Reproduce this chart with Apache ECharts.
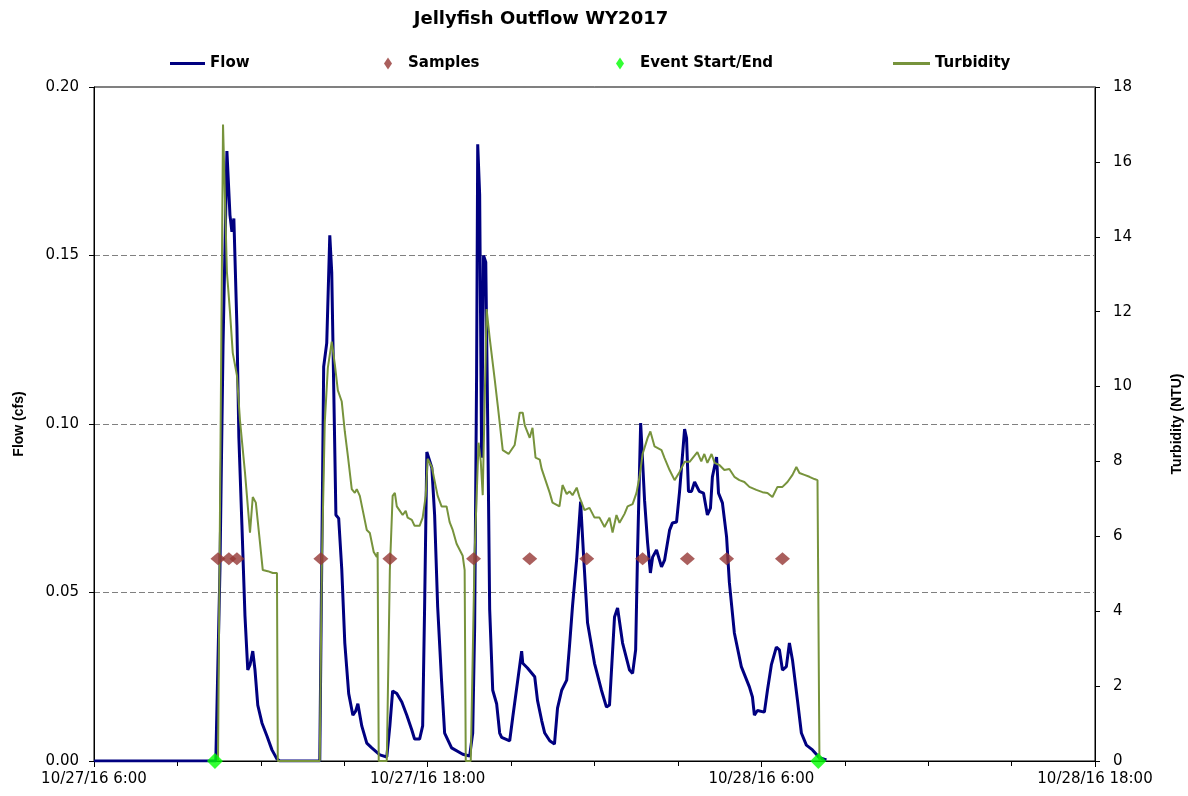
<!DOCTYPE html>
<html>
<head>
<meta charset="utf-8">
<title>Jellyfish Outflow WY2017</title>
<script src="https://cdn.jsdelivr.net/npm/echarts@6/dist/echarts.min.js"></script>
<style>
  html, body { margin: 0; padding: 0; background: #fff; }
  #chart { width: 1188px; height: 796px; }
</style>
</head>
<body>
<div id="chart"></div>
<script>
// hours after 10/27/16 6:00
var flowHours = [0, 4.38, 4.53, 4.64, 4.78, 4.89, 4.96, 5.03, 5.14, 5.21, 5.32, 5.43, 5.53, 5.61, 5.71, 5.79, 5.89, 6.04, 6.22, 6.40, 6.58, 6.68,
  8.12, 8.16, 8.26, 8.37, 8.48, 8.55, 8.70, 8.80, 8.91, 9.02, 9.16, 9.31, 9.41, 9.49, 9.63, 9.81, 9.99, 10.28, 10.53,
  10.64, 10.74, 10.89, 11.07, 11.25, 11.43, 11.53, 11.71, 11.82, 11.89, 11.97, 12.04, 12.15, 12.25, 12.36, 12.50, 12.61, 12.86, 13.26, 13.51,
  13.62, 13.69, 13.76, 13.80, 13.87, 13.94, 14.01, 14.09, 14.16, 14.23, 14.34, 14.48, 14.59, 14.66, 14.95,
  15.06, 15.24, 15.38, 15.42, 15.59, 15.85, 15.95, 16.10, 16.21, 16.39, 16.56, 16.67, 16.82, 17.00, 17.10, 17.21, 17.36, 17.50, 17.61, 17.75,
  18.00, 18.25, 18.43, 18.54, 18.72, 18.83, 19.01, 19.26, 19.37, 19.48, 19.55, 19.66, 19.80, 19.91, 20.01, 20.09, 20.23, 20.41, 20.52,
  20.70, 20.80, 20.95, 21.06, 21.24, 21.31, 21.38, 21.49, 21.60, 21.77, 21.92, 22.06, 22.17, 22.24, 22.39, 22.46, 22.60, 22.75, 22.85,
  23.03, 23.28, 23.57, 23.68, 23.75, 23.86, 24.11, 24.22, 24.36, 24.54, 24.65, 24.76, 24.90, 25.01, 25.12, 25.30, 25.44, 25.62, 25.84, 26.09, 26.34];
var flowValues = [0, 0, 0.057, 0.123, 0.181, 0.162, 0.157, 0.161, 0.129, 0.096, 0.070, 0.043, 0.027, 0.0285, 0.0326, 0.027, 0.0166, 0.0113, 0.0074, 0.0033, 0.0006, 0,
  0, 0, 0.117, 0.124, 0.156, 0.145, 0.073, 0.072, 0.057, 0.035, 0.020, 0.0136, 0.0148, 0.017, 0.0104, 0.0053, 0.0039, 0.0018, 0.0012,
  0.0104, 0.0208, 0.020, 0.0175, 0.0136, 0.0092, 0.0065, 0.0065, 0.0104, 0.0457, 0.0917, 0.0917, 0.087, 0.073, 0.0457, 0.0237, 0.0083, 0.0039, 0.002, 0.0015,
  0.0083, 0.040, 0.115, 0.183, 0.168, 0.09, 0.150, 0.148, 0.10, 0.045, 0.021, 0.017, 0.0083, 0.007, 0.006,
  0.013, 0.024, 0.0326, 0.029, 0.0276, 0.025, 0.018, 0.012, 0.0083, 0.006, 0.005, 0.0157, 0.021, 0.024, 0.034, 0.046, 0.060, 0.077, 0.0605, 0.041,
  0.029, 0.021, 0.016, 0.0166, 0.0427, 0.0454, 0.035, 0.027, 0.026, 0.033, 0.0626, 0.1003, 0.0774, 0.0647, 0.0558, 0.0605, 0.0626, 0.0576, 0.0596,
  0.0685, 0.0706, 0.0709, 0.080, 0.0985, 0.0958, 0.080, 0.080, 0.0828, 0.080, 0.0795, 0.073, 0.075, 0.0843, 0.0902, 0.0795, 0.0766, 0.0665, 0.053,
  0.038, 0.028, 0.022, 0.019, 0.0136, 0.015, 0.0145, 0.021, 0.0285, 0.0338, 0.033, 0.027, 0.028, 0.035, 0.030, 0.018, 0.0083, 0.0047, 0.0033, 0.001, 0.0003];

var turbHours = [4.46, 4.64, 4.78, 4.89, 4.99, 5.14, 5.25, 5.43, 5.61, 5.71, 5.82, 5.96, 6.07, 6.25, 6.43, 6.50, 6.58, 6.61,
  8.12, 8.19, 8.30, 8.41, 8.55, 8.66, 8.77, 8.91, 9.02, 9.13, 9.27, 9.38, 9.45, 9.56, 9.67, 9.81, 9.92, 10.06, 10.17, 10.20, 10.24,
  10.53, 10.64, 10.74, 10.82, 10.89, 11.00, 11.10, 11.21, 11.28, 11.43, 11.53, 11.71, 11.82, 11.93, 12.00, 12.15, 12.25, 12.36, 12.50,
  12.68, 12.79, 12.90, 13.04, 13.15, 13.26, 13.33, 13.37, 13.55, 13.69, 13.83, 13.91, 13.98, 14.12, 14.23, 14.41, 14.52, 14.70, 14.91,
  15.13, 15.31, 15.42, 15.49, 15.67, 15.77, 15.88, 16.03, 16.10, 16.39, 16.49, 16.74, 16.85, 17.00, 17.10, 17.21, 17.36, 17.46, 17.64,
  17.82, 18.00, 18.18, 18.36, 18.54, 18.65, 18.79, 18.90, 19.08, 19.19, 19.37, 19.51, 19.62, 19.73, 19.91, 20.01, 20.16, 20.41, 20.52,
  20.70, 20.88, 21.06, 21.24, 21.42, 21.70, 21.84, 21.95, 22.06, 22.21, 22.32, 22.50, 22.67, 22.85, 23.03, 23.21, 23.39, 23.57, 23.82,
  24.04, 24.22, 24.40, 24.58, 24.76, 24.94, 25.12, 25.26, 25.37, 25.55, 25.73, 25.91, 26.02, 26.09];
var turbValues = [0, 17.0, 13.06, 12.0, 10.9, 10.3, 9.1, 7.7, 6.1, 7.05, 6.9, 5.9, 5.1, 5.07, 5.02, 4.97, 5.02, 0,
  0, 5.1, 9.05, 10.5, 11.2, 10.6, 9.9, 9.6, 8.8, 8.15, 7.26, 7.16, 7.26, 7.08, 6.68, 6.17, 6.09, 5.58, 5.45, 5.58, 0,
  0, 5.1, 7.08, 7.16, 6.8, 6.68, 6.57, 6.68, 6.5, 6.44, 6.28, 6.28, 6.5, 7.08, 8.07, 7.85, 7.48, 7.08, 6.8,
  6.8, 6.38, 6.17, 5.8, 5.64, 5.48, 5.1, 0, 0, 5.58, 8.5, 8.0, 7.1, 12.07, 11.3, 10.2, 9.5, 8.3, 8.2,
  8.44, 9.3, 9.3, 8.97, 8.63, 8.9, 8.1, 8.05, 7.8, 7.16, 6.9, 6.8, 7.37, 7.13, 7.2, 7.1, 7.3, 7.05, 6.7,
  6.76, 6.5, 6.5, 6.25, 6.5, 6.1, 6.57, 6.36, 6.6, 6.8, 6.86, 7.16, 7.59, 8.2, 8.63, 8.8, 8.4, 8.3, 8.09,
  7.77, 7.5, 7.72, 7.99, 7.99, 8.25, 8.0, 8.2, 7.96, 8.2, 7.96, 7.9, 7.77, 7.8, 7.59, 7.5, 7.45, 7.32, 7.24,
  7.18, 7.16, 7.05, 7.32, 7.32, 7.45, 7.64, 7.85, 7.69, 7.64, 7.59, 7.53, 7.5, 0];

var sampleHours = [4.46, 4.85, 5.14, 8.16, 10.64, 13.65, 15.67, 17.72, 19.73, 21.34, 22.75, 24.76];
var sampleValues = [0.06, 0.06, 0.06, 0.06, 0.06, 0.06, 0.06, 0.06, 0.06, 0.06, 0.06, 0.06];

var eventHours = [4.35, 26.05];
var eventValues = [0, 0];

var xTickLabels = ['10/27/16 6:00', '10/27/16 18:00', '10/28/16 6:00', '10/28/16 18:00'];

function pairs(xs, ys) {
  return xs.map(function (x, i) { return [x, ys[i]]; });
}

var chart = echarts.init(document.getElementById('chart'), null, { renderer: 'canvas' });

var labelFont = 'DejaVu Sans';
var legendText = { fontFamily: labelFont, fontWeight: 'bold', fontSize: 15, color: '#000' };

var option = {
  animation: false,
  backgroundColor: '#fff',
  title: {
    text: 'Jellyfish Outflow WY2017',
    left: 541,
    top: 10,
    padding: 0,
    textAlign: 'center',
    textStyle: { fontFamily: labelFont, fontWeight: 'bold', fontSize: 18, color: '#000' }
  },
  legend: [
    { data: ['Flow'], left: 170, top: 56, padding: 0, icon: 'rect', itemWidth: 35, itemHeight: 3, textStyle: legendText },
    { data: ['Samples'], left: 384, top: 56, padding: 0, icon: 'diamond', itemWidth: 8, itemHeight: 12,
      textStyle: Object.assign({ padding: [0, 0, 0, 11] }, legendText) },
    { data: ['Event Start/End'], left: 616, top: 56, padding: 0, icon: 'diamond', itemWidth: 8, itemHeight: 12,
      textStyle: Object.assign({ padding: [0, 0, 0, 11] }, legendText) },
    { data: ['Turbidity'], left: 893, top: 56, padding: 0, icon: 'rect', itemWidth: 37, itemHeight: 3, textStyle: legendText }
  ],
  grid: {
    left: 94, right: 93, top: 87, bottom: 35,
    outerBoundsMode: 'none',
    containLabel: false,
    show: true, borderColor: '#000', borderWidth: 1
  },
  xAxis: {
    type: 'value',
    min: 0,
    max: 36,
    interval: 12,
    axisLine: { lineStyle: { color: '#000', width: 1 } },
    axisTick: { show: true, length: 6, lineStyle: { color: '#000' } },
    minorTick: { show: true, splitNumber: 4, length: 5, lineStyle: { color: '#000' } },
    splitLine: { show: false },
    axisLabel: {
      margin: 11,
      fontFamily: labelFont, fontSize: 15, color: '#000',
      formatter: function (v) { return xTickLabels[Math.round(v / 12)]; }
    }
  },
  yAxis: [
    {
      type: 'value',
      min: 0,
      max: 0.2,
      interval: 0.05,
      name: 'Flow (cfs)',
      nameLocation: 'middle',
      nameGap: 68,
      nameTextStyle: { fontFamily: 'Liberation Sans', fontWeight: 'bold', fontSize: 14, color: '#000' },
      axisLine: { show: true, lineStyle: { color: '#000' } },
      axisTick: { show: true, length: 5, lineStyle: { color: '#000' } },
      axisLabel: {
        margin: 15,
        fontFamily: labelFont, fontSize: 15, color: '#000',
        formatter: function (v) { return v.toFixed(2); }
      },
      splitLine: { show: true, lineStyle: { color: '#808080', type: [6, 3], width: 1 } }
    },
    {
      type: 'value',
      min: 0,
      max: 18,
      interval: 2,
      name: 'Turbidity (NTU)',
      nameLocation: 'middle',
      nameGap: 75,
      nameTextStyle: { fontFamily: 'Liberation Sans', fontWeight: 'bold', fontSize: 14, color: '#000' },
      axisLine: { show: true, lineStyle: { color: '#000' } },
      axisTick: { show: true, length: 5, lineStyle: { color: '#000' } },
      axisLabel: { margin: 18, fontFamily: labelFont, fontSize: 15, color: '#000' },
      splitLine: { show: false }
    }
  ],
  series: [
    {
      name: 'Flow',
      type: 'line',
      yAxisIndex: 0,
      data: pairs(flowHours, flowValues),
      showSymbol: false,
      symbol: 'none',
      color: '#000080',
      lineStyle: { color: '#000080', width: 3 },
      z: 2
    },
    {
      name: 'Turbidity',
      type: 'line',
      yAxisIndex: 1,
      data: pairs(turbHours, turbValues),
      showSymbol: false,
      symbol: 'none',
      color: '#77933C',
      lineStyle: { color: '#77933C', width: 2 },
      z: 3
    },
    {
      name: 'Samples',
      type: 'scatter',
      yAxisIndex: 0,
      data: pairs(sampleHours, sampleValues),
      symbol: 'diamond',
      symbolSize: [15, 13],
      itemStyle: { color: '#953735' },
      z: 4
    },
    {
      name: 'Event Start/End',
      type: 'scatter',
      yAxisIndex: 0,
      data: pairs(eventHours, eventValues),
      symbol: 'diamond',
      symbolSize: [16, 16],
      itemStyle: { color: '#00FF00' },
      z: 5
    }
  ]
};

chart.setOption(option);
</script>
</body>
</html>
